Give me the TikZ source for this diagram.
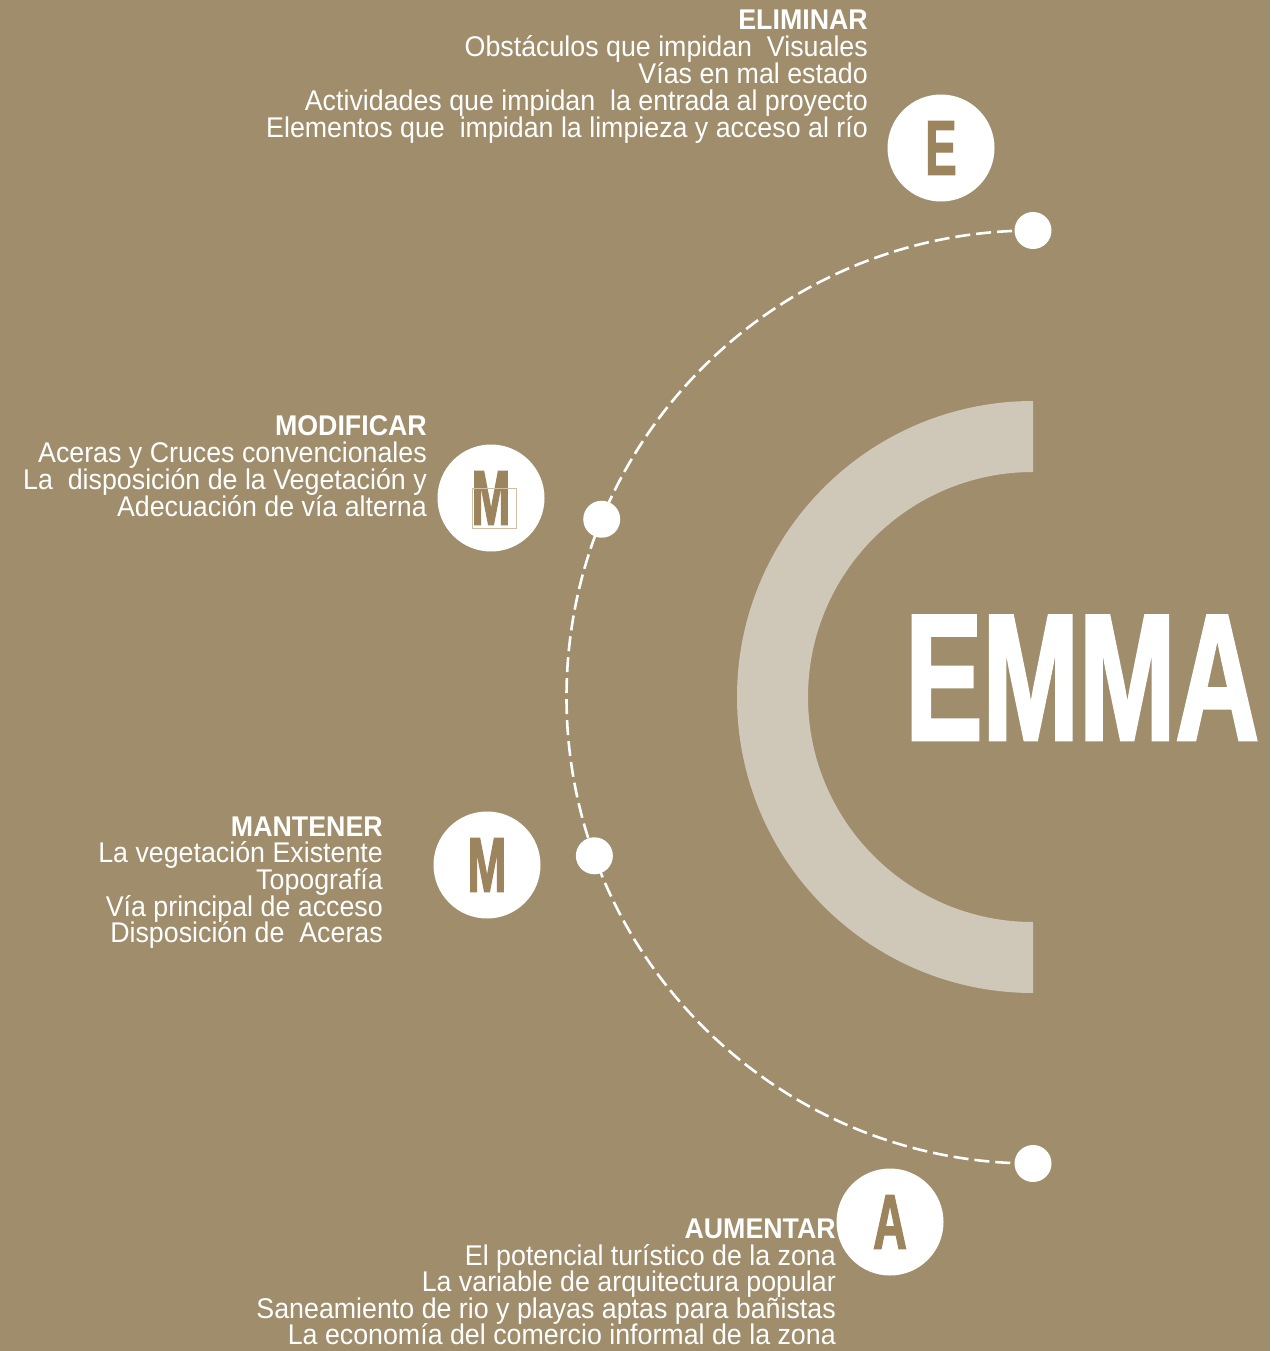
\documentclass[tikz,border=0pt]{standalone}
\usepackage{fontspec}
\setmainfont{Liberation Sans}
\newfontfamily\bodyf{Liberation Sans}[FakeStretch=0.94]
\newfontfamily\emmaf{Liberation Sans}[FakeStretch=0.64, FakeBold=1.5]
\newfontfamily\letf{Liberation Sans}[FakeStretch=0.6, FakeBold=1.5]
\usetikzlibrary{calc}
\definecolor{bg}{RGB}{159,141,108}
\definecolor{cband}{RGB}{207,199,183}
\definecolor{lett}{RGB}{156,133,92}
\definecolor{faint}{RGB}{205,190,165}
\tikzset{
  txt/.style={anchor=base east, inner sep=0pt, text=white, font={\bodyf\fontsize{28.5}{30}\selectfont}},
  hd/.style={anchor=base east, inner sep=0pt, text=white, font={\bodyf\bfseries\fontsize{28.5}{30}\selectfont}},
  dot/.style={circle, fill=white, minimum size=37pt, inner sep=0pt},
  bigc/.style={circle, fill=white, minimum size=107pt, inner sep=0pt, text=lett, font={\letf\bfseries\fontsize{78}{78}\selectfont}},
  dasharc/.style={draw=white, line width=2.6pt, dash pattern=on 15pt off 6pt}
}
\begin{document}
\begin{tikzpicture}[x=1pt, y=-1pt]
\fill[bg] (0,0) rectangle (1270,1351);
\useasboundingbox (0,0) rectangle (1270,1351);
% centre of arcs
\coordinate (C) at (1033,697);
% light C band
\fill[cband] (1033,401) arc[start angle=-90, end angle=-270, radius=296]
  -- (1033,922) arc[start angle=90, end angle=270, radius=225] -- cycle;
% EMMA
\node[anchor=base west, inner sep=0pt, text=white] (emma) at (905,740)
  {\emmaf\bfseries\fontsize{181}{181}\selectfont EMMA};
% dashed arc
\coordinate (p1) at (1033,230.5);
\coordinate (p2) at ($(C)+(202.4:466.5)$);
\coordinate (p3) at ($(C)+(160.1:466.5)$);
\coordinate (p4) at (1033,1163.5);
\draw[dasharc] (p1) arc[start angle=-90, end angle=-270, radius=466.5];
\node[dot] (d1) at (p1) {};
\node[dot] (d2) at (p2) {};
\node[dot] (d3) at (p3) {};
\node[dot] (d4) at (p4) {};
% big circles
\node[bigc] (ce) at (941,148) {\raisebox{-3pt}{E}};
\node[bigc] (cm1) at (491,498) {M};
\node[bigc] (cm2) at (487,865) {\raisebox{-3pt}{M}};
\node[bigc] (ca) at (890,1222) {\raisebox{-3pt}{A}};
\draw[faint, line width=0.7pt] (472,488) rectangle (516,528);
% ELIMINAR
\node[hd] (e0) at (868,30) {ELIMINAR};
\node[txt] (e1) at (868,57) {Obstáculos que impidan\ \ Visuales};
\node[txt] (e2) at (868,84) {Vías en mal estado};
\node[txt] (e3) at (868,111) {Actividades que impidan\ \ la entrada al proyecto};
\node[txt] (e4) at (868,138) {Elementos que\ \ impidan la limpieza y acceso al río};
% MODIFICAR
\node[hd] (m0) at (427,435) {MODIFICAR};
\node[txt] (m1) at (427,462) {Aceras y Cruces convencionales};
\node[txt] (m2) at (427,489) {La\ \ disposición de la Vegetación y};
\node[txt] (m3) at (427,516) {Adecuación de vía alterna};
% MANTENER
\node[hd] (n0) at (383,836) {MANTENER};
\node[txt] (n1) at (383,862) {La vegetación Existente};
\node[txt] (n2) at (383,889) {Topografía};
\node[txt] (n3) at (383,916) {Vía principal de acceso};
\node[txt] (n4) at (383,942) {Disposición de\ \ Aceras};
% AUMENTAR
\node[hd] (a0) at (836,1238) {AUMENTAR};
\node[txt] (a1) at (836,1265) {El potencial turístico de la zona};
\node[txt] (a2) at (836,1291) {La variable de arquitectura popular};
\node[txt] (a3) at (836,1318) {Saneamiento de rio y playas aptas para bañistas};
\node[txt] (a4) at (836,1344) {La economía del comercio informal de la zona};
\end{tikzpicture}
\end{document}
